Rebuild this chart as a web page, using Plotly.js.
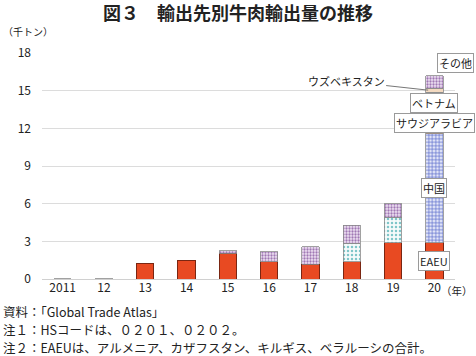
<!DOCTYPE html>
<html>
<head>
<meta charset="utf-8">
<script src="https://cdn.plot.ly/plotly-3.0.1.min.js"></script>
<style>
html,body{margin:0;padding:0;background:#fff;}
#chart{width:476px;height:356px;}
</style>
</head>
<body>
<div id="chart"></div>
<script>
// ---- data (千トン) ----
const years   = ['2011','12','13','14','15','16','17','18','19','20'];
const eaeu    = [null, null, 1.2, 1.5, 2.05, 1.38, 1.17, 1.38, 2.9, 2.9];
const china   = [null, null, null, null, null, null, null, null, null, 8.66];
const saudi   = [null, null, null, null, null, null, null, null, null, 1.67];
const vietnam = [null, null, null, null, null, null, null, 1.45, 2.0, 1.65];
const uzbek   = [null, null, null, null, null, null, null, null, null, 0.32];
const other   = [0.03, 0.03, null, null, 0.2, 0.8, 1.38, 1.46, 1.08, 0.98];
const yTicks  = [0, 3, 6, 9, 12, 15, 18];

const FONT = '"Noto Sans CJK JP", "Noto Sans", sans-serif';
const grayLine = {color: '#8a8a8a', width: 0.8};

const traces = [
  {name: 'EAEU', y: eaeu, marker: {color: '#e84a22', line: {color: '#7a2612', width: 1}}},
  {name: '中国', y: china, marker: {color: '#dfe3f6', line: grayLine,
     pattern: {shape: '+', fgcolor: '#5466c8', bgcolor: '#e4e7f8', size: 3.5, solidity: 0.35}}},
  {name: 'サウジアラビア', y: saudi, marker: {color: '#eda566', line: grayLine}},
  {name: 'ベトナム', y: vietnam, marker: {color: '#f2fafa', line: grayLine,
     pattern: {shape: '.', fgcolor: '#7fc6c9', bgcolor: '#f6fbfb', size: 4, solidity: 0.3}}},
  {name: 'ウズベキスタン', y: uzbek, marker: {color: '#f3d9c0', line: grayLine}},
  {name: 'その他', y: other, marker: {color: '#ecdcf0', line: grayLine,
     pattern: {shape: '.', fgcolor: '#a078b4', bgcolor: '#efe2f3', size: 3, solidity: 0.45}}}
].map(t => Object.assign({type: 'bar', x: years, hoverinfo: 'skip'}, t));

// label positions from cumulative midpoints of the last bar
const last = years.length - 1;
const stackVals = [eaeu, china, saudi, vietnam, uzbek, other].map(a => a[last] || 0);
const cum = [];
stackVals.reduce((s, v, i) => { cum[i] = [s, s + v]; return s + v; }, 0);
const mid = i => (cum[i][0] + cum[i][1]) / 2;

const boxAnn = (text, y, extra) => Object.assign({
  x: last, y: y, xref: 'x', yref: 'y', text: text, showarrow: false,
  xanchor: 'center', yanchor: 'middle',
  font: {family: FONT, size: 11, color: '#222'},
  bgcolor: '#ffffff', bordercolor: '#9a9a9a', borderwidth: 1, borderpad: 1
}, extra || {});

const footFont = {family: FONT, size: 12.5, color: '#222'};

const layout = {
  width: 476, height: 356,
  margin: {l: 42, r: 21, t: 53, b: 77},
  paper_bgcolor: '#fff', plot_bgcolor: '#fff',
  barmode: 'stack', bargap: 0.58,
  showlegend: false,
  font: {family: FONT, size: 12, color: '#222'},
  title: {text: '<b>図３　輸出先別牛肉輸出量の推移</b>', x: 0.5, xanchor: 'center', y: 0.962, yanchor: 'middle',
          font: {family: FONT, size: 18, color: '#222'}},
  xaxis: {type: 'category', range: [-0.5, 9.5], showgrid: false, showline: false, zeroline: false,
          ticks: '', tickfont: {family: FONT, size: 12, color: '#222'}, fixedrange: true},
  yaxis: {range: [0, 18], tickvals: yTicks, ticktext: yTicks.map(String), showgrid: true,
          gridcolor: '#dcdcdc', gridwidth: 1, zeroline: true, zerolinecolor: '#d0d0d0', zerolinewidth: 1,
          showline: false, ticks: '', ticklen: 0, ticklabelstandoff: 10,
          tickfont: {family: FONT, size: 12, color: '#222'}, fixedrange: true},
  annotations: [
    {xref: 'paper', yref: 'paper', x: -0.1, y: 1.095, xanchor: 'left', yanchor: 'middle',
     text: '（千トン）', showarrow: false, font: {family: FONT, size: 10, color: '#222'}},
    {xref: 'paper', yref: 'paper', x: 0.962, y: -0.052, xanchor: 'left', yanchor: 'middle',
     text: '（年）', showarrow: false, font: {family: FONT, size: 10.5, color: '#222'}},
    boxAnn('EAEU', mid(0)),
    boxAnn('中国', mid(1)),
    boxAnn('サウジアラビア', mid(2)),
    boxAnn('ベトナム', mid(3)),
    boxAnn('その他', cum[5][1] + 1.05, {xshift: 21}),
    {xref: 'paper', yref: 'y', x: 0.935, y: mid(4), text: 'ウズベキスタン', showarrow: true,
     arrowhead: 0, arrowwidth: 1, arrowcolor: '#777', ax: -82, ay: -9, standoff: 0,
     font: {family: FONT, size: 11, color: '#222'}},
    {xref: 'paper', yref: 'paper', x: -0.1, y: -0.145, xanchor: 'left', yanchor: 'middle', align: 'left',
     text: '資料：「Global Trade Atlas」', showarrow: false, font: footFont},
    {xref: 'paper', yref: 'paper', x: -0.1, y: -0.224, xanchor: 'left', yanchor: 'middle', align: 'left',
     text: '注１：HSコードは、０２０１、０２０２。', showarrow: false, font: footFont},
    {xref: 'paper', yref: 'paper', x: -0.1, y: -0.303, xanchor: 'left', yanchor: 'middle', align: 'left',
     text: '注２：EAEUは、アルメニア、カザフスタン、キルギス、ベラルーシの合計。', showarrow: false,
     font: footFont}
  ]
};

Plotly.newPlot('chart', traces, layout, {staticPlot: true, displayModeBar: false});
</script>
</body>
</html>
